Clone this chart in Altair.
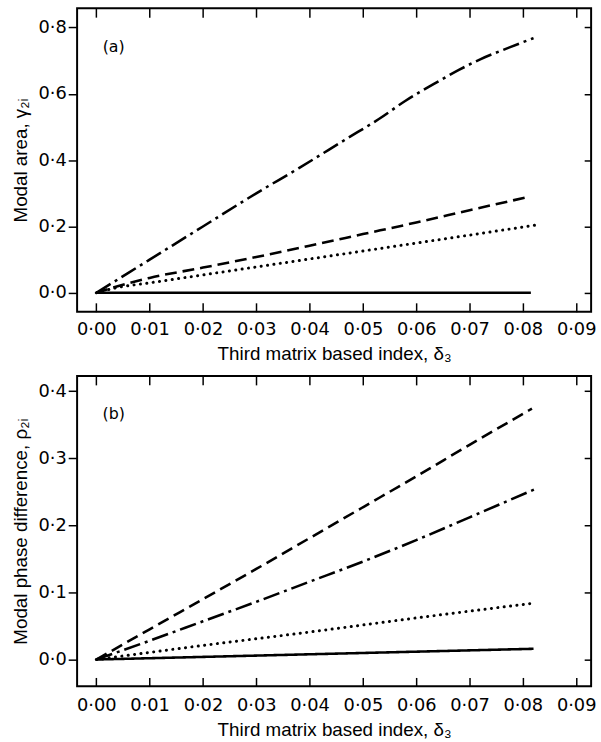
import altair as alt
import pandas as pd

# ---------------- data ----------------
x_ticks = [0.00, 0.01, 0.02, 0.03, 0.04, 0.05, 0.06, 0.07, 0.08, 0.09]
ya_ticks = [0.0, 0.2, 0.4, 0.6, 0.8]
yb_ticks = [0.0, 0.1, 0.2, 0.3, 0.4]

# panel (a): modal area
a_solid_x = [0.0, 0.0815]
a_solid_y = [0.0, 0.0]
a_dot_x = [0.0, 0.004, 0.01, 0.02, 0.03, 0.04, 0.05, 0.06, 0.07, 0.0823]
a_dot_y = [0.0, 0.016, 0.030, 0.054, 0.078, 0.102, 0.126, 0.150, 0.174, 0.204]
a_dash_x = [0.0, 0.004, 0.01, 0.02, 0.03, 0.04, 0.05, 0.06, 0.07, 0.081]
a_dash_y = [0.0, 0.020, 0.045, 0.076, 0.108, 0.142, 0.177, 0.212, 0.249, 0.289]
a_dd_x = [0.0, 0.01, 0.02, 0.03, 0.038, 0.047, 0.053, 0.058, 0.064, 0.068, 0.072, 0.0775, 0.082]
a_dd_y = [0.0, 0.10, 0.20, 0.30, 0.376, 0.465, 0.524, 0.579, 0.636, 0.672, 0.704, 0.740, 0.768]

# panel (b): modal phase difference
b_solid_x = [0.0, 0.082]
b_solid_y = [0.0, 0.016]
b_dot_x = [0.0, 0.02, 0.04, 0.06, 0.082]
b_dot_y = [0.0, 0.021, 0.041, 0.062, 0.084]
b_dash_x = [0.0, 0.01, 0.02, 0.03, 0.04, 0.05, 0.06, 0.07, 0.0817]
b_dash_y = [0.0, 0.045, 0.090, 0.135, 0.181, 0.227, 0.273, 0.320, 0.374]
b_dd_x = [0.0, 0.01, 0.02, 0.03, 0.04, 0.05, 0.06, 0.07, 0.0823]
b_dd_y = [0.0, 0.028, 0.057, 0.086, 0.116, 0.146, 0.178, 0.212, 0.254]

x_title = "Third matrix based index, δ₃"
ya_title = "Modal area, γ₂ᵢ"
yb_title = "Modal phase difference, ρ₂ᵢ"


def frame(series):
    rows = []
    for name, xs, ys in series:
        for xv, yv in zip(xs, ys):
            rows.append({"s": name, "x": xv, "y": yv})
    return pd.DataFrame(rows)


df_a = frame([("solid", a_solid_x, a_solid_y), ("dot", a_dot_x, a_dot_y),
              ("dash", a_dash_x, a_dash_y), ("dashdot", a_dd_x, a_dd_y)])
df_b = frame([("solid", b_solid_x, b_solid_y), ("dot", b_dot_x, b_dot_y),
              ("dash", b_dash_x, b_dash_y), ("dashdot", b_dd_x, b_dd_y)])

STYLES = [
    ("solid", [1, 0], "butt", 2.6),
    ("dot", [0.1, 6.4], "round", 3.0),
    ("dash", [12, 6], "butt", 2.6),
    ("dashdot", [17, 5, 3, 5], "butt", 2.6),
]

X_DOMAIN = [-0.0036, 0.0928]
LAB_X = "replace(format(datum.value, '.2f'), '.', '·')"
LAB_Y = "replace(format(datum.value, '.1f'), '.', '·')"
LFONT = "DejaVu Sans"
TFONT = "Liberation Sans"

COMMON = dict(labelFont=LFONT, labelFontSize=18, labelColor="black",
              titleFont=TFONT, titleFontSize=19, titleFontWeight="normal",
              titleColor="black", tickColor="black", tickWidth=1.5)


def panel(df, ydom, yvals, ytitle, tag, h, lab_pad, title_pad):
    xsc = alt.Scale(domain=X_DOMAIN, nice=False, zero=False)
    ysc = alt.Scale(domain=ydom, nice=False, zero=False)
    layers = []
    for name, dash, cap, sw in STYLES:
        layers.append(
            alt.Chart(df).transform_filter(alt.datum.s == name)
            .mark_line(color="black", strokeWidth=sw, strokeDash=dash,
                       strokeCap=cap, interpolate="monotone")
            .encode(x=alt.X("x:Q", scale=xsc, axis=None),
                    y=alt.Y("y:Q", scale=ysc, axis=None), order="x:Q")
        )
    ghost = alt.Chart(df).mark_point(opacity=0)
    layers.append(ghost.encode(
        x=alt.X("x:Q", scale=xsc, axis=alt.Axis(
            orient="bottom", values=x_ticks, labelExpr=LAB_X, title=x_title,
            ticks=False, domain=False, grid=False, labelPadding=lab_pad,
            titlePadding=title_pad, **COMMON)),
        y=alt.Y("y:Q", scale=ysc, axis=alt.Axis(
            orient="left", values=yvals, labelExpr=LAB_Y, title=ytitle,
            ticks=True, tickSize=9, domain=False, grid=False,
            labelPadding=2, titlePadding=8, **COMMON)),
    ))
    layers.append(ghost.encode(
        x=alt.X("x:Q", scale=xsc, axis=alt.Axis(
            orient="bottom", values=x_ticks, labels=False, ticks=True,
            tickSize=9, offset=-9, domain=False, grid=False, title=None,
            tickColor="black", tickWidth=1.5)),
        y=alt.Y("y:Q", scale=ysc, axis=None),
    ))
    layers.append(ghost.encode(
        x=alt.X("x:Q", scale=xsc, axis=alt.Axis(
            orient="top", values=x_ticks, labels=False, ticks=True,
            tickSize=9, offset=-9, domain=False, grid=False, title=None,
            tickColor="black", tickWidth=1.5)),
        y=alt.Y("y:Q", scale=ysc, axis=None),
    ))
    layers.append(ghost.encode(
        x=alt.X("x:Q", scale=xsc, axis=None),
        y=alt.Y("y:Q", scale=ysc, axis=alt.Axis(
            orient="right", values=yvals, labels=False, ticks=True,
            tickSize=7, offset=-7, domain=False, grid=False, title=None,
            tickColor="black", tickWidth=1.5)),
    ))
    layers.append(
        alt.Chart(pd.DataFrame({"t": [tag]}))
        .mark_text(font=LFONT, fontSize=16, color="black")
        .encode(text="t:N", x=alt.value(37), y=alt.value(39))
    )
    return (alt.layer(*layers)
            .resolve_axis(x="independent", y="independent")
            .properties(width=520, height=h))


pa = panel(df_a, [-0.057, 0.858], ya_ticks, ya_title, "(a)", 307, 9, 6)
pb = panel(df_b, [-0.040, 0.4227], yb_ticks, yb_title, "(b)", 314, 10, 7)

chart = (
    alt.vconcat(pa, pb, spacing=65, bounds="flush")
    .properties(padding={"left": 10, "top": 2, "right": 4, "bottom": 2},
                background="white")
    .configure_view(stroke="black", strokeWidth=2)
)

chart.save("out.html", embed_options={"renderer": "svg", "actions": False})
